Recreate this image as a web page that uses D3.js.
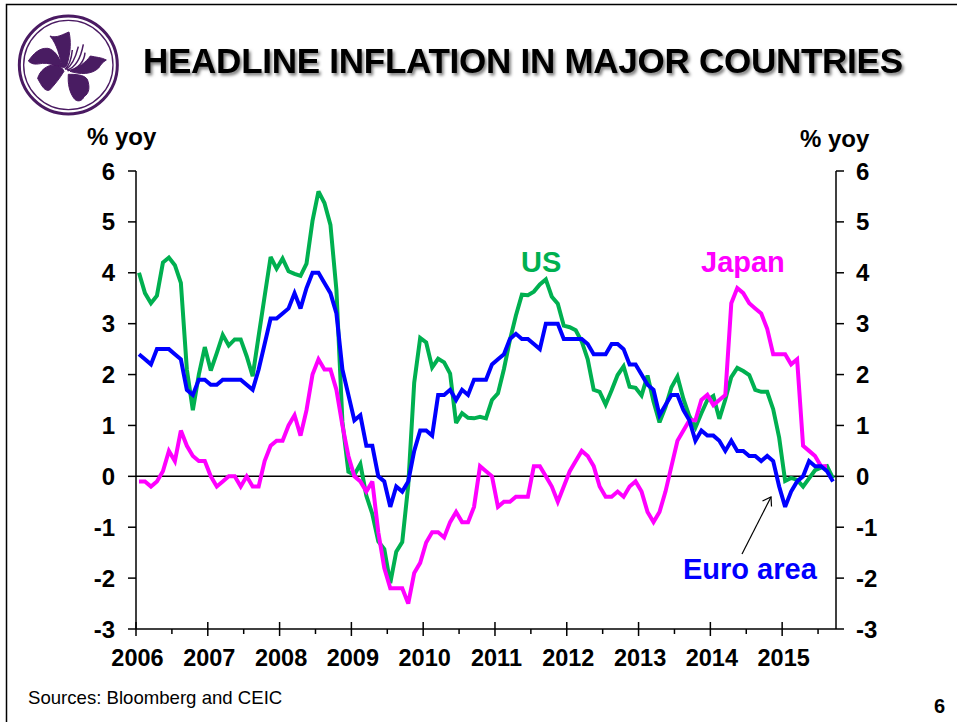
<!DOCTYPE html>
<html><head><meta charset="utf-8">
<script src="https://cdn.jsdelivr.net/npm/d3@7/dist/d3.min.js"></script>
<style>
html,body{margin:0;padding:0;background:#fff}
svg{display:block}
text{font-family:"Liberation Sans",Arial,sans-serif}
</style></head><body>
<svg id="c" width="957" height="722"></svg>
<script>
const years=[2006,2007,2008,2009,2010,2011,2012,2013,2014,2015];
const yTicks=[-3,-2,-1,0,1,2,3,4,5,6];
const usValues=[4.0,3.6,3.4,3.55,4.2,4.3,4.15,3.8,2.1,1.3,2.0,2.54,
2.08,2.42,2.78,2.57,2.69,2.69,2.36,1.97,2.76,3.54,4.31,4.08,
4.28,4.03,3.98,3.94,4.18,5.02,5.6,5.37,4.94,3.66,1.07,0.09,
0.03,0.24,-0.38,-0.74,-1.28,-1.43,-2.10,-1.48,-1.29,-0.18,1.84,2.72,
2.63,2.14,2.31,2.24,2.02,1.05,1.24,1.15,1.14,1.17,1.14,1.50,
1.63,2.11,2.68,3.16,3.57,3.56,3.63,3.77,3.87,3.53,3.39,2.96,
2.93,2.87,2.65,2.30,1.70,1.66,1.41,1.69,1.99,2.16,1.76,1.74,
1.59,1.98,1.47,1.06,1.36,1.75,1.96,1.52,1.18,0.96,1.24,1.50,
1.58,1.13,1.51,1.95,2.13,2.07,1.99,1.70,1.66,1.66,1.32,0.76,
-0.09,-0.03,-0.07,-0.20,-0.04,0.12,0.17,0.20,-0.04];
const euroValues=[2.4,2.3,2.2,2.5,2.5,2.5,2.4,2.3,1.7,1.6,1.9,1.9,
1.8,1.8,1.9,1.9,1.9,1.9,1.8,1.7,2.1,2.6,3.1,3.1,
3.2,3.3,3.6,3.3,3.7,4.0,4.0,3.8,3.6,3.2,2.1,1.6,
1.1,1.2,0.6,0.6,0.0,-0.1,-0.6,-0.2,-0.3,-0.1,0.5,0.9,
0.9,0.8,1.6,1.6,1.7,1.5,1.7,1.6,1.9,1.9,1.9,2.2,
2.3,2.4,2.7,2.8,2.7,2.7,2.6,2.5,3.0,3.0,3.0,2.7,
2.7,2.7,2.7,2.6,2.4,2.4,2.4,2.6,2.6,2.5,2.2,2.2,
2.0,1.8,1.7,1.2,1.4,1.6,1.6,1.3,1.1,0.7,0.9,0.8,
0.8,0.7,0.5,0.7,0.5,0.5,0.4,0.4,0.3,0.4,0.3,-0.2,
-0.6,-0.3,-0.1,0.0,0.3,0.2,0.2,0.1,-0.1];
const japanValues=[-0.1,-0.1,-0.2,-0.1,0.1,0.5,0.3,0.9,0.6,0.4,0.3,0.3,
0.0,-0.2,-0.1,0.0,0.0,-0.2,0.0,-0.2,-0.2,0.3,0.6,0.7,
0.7,1.0,1.2,0.8,1.3,2.0,2.3,2.1,2.1,1.7,1.0,0.4,
0.0,-0.1,-0.3,-0.1,-1.1,-1.8,-2.2,-2.2,-2.2,-2.5,-1.9,-1.7,
-1.3,-1.1,-1.1,-1.2,-0.9,-0.7,-0.9,-0.9,-0.6,0.2,0.1,0.0,
-0.6,-0.5,-0.5,-0.4,-0.4,-0.4,0.2,0.2,0.0,-0.2,-0.5,-0.2,
0.1,0.3,0.5,0.4,0.2,-0.2,-0.4,-0.4,-0.3,-0.4,-0.2,-0.1,
-0.3,-0.7,-0.9,-0.7,-0.3,0.2,0.7,0.9,1.1,1.1,1.5,1.6,
1.4,1.5,1.6,3.4,3.7,3.6,3.4,3.3,3.2,2.9,2.4,2.4,
2.4,2.2,2.3,0.6,0.5,0.4,0.2,0.2];

const L=136,R=836,T=171,B=629;
const svg=d3.select('#c');
const x=d3.scaleLinear().domain([0,usValues.length]).range([L,R]);
const y=d3.scaleLinear().domain([-3,6]).range([B,T]);

const defs=svg.append('defs');
const f=defs.append('filter').attr('id','sh').attr('x','-3%').attr('y','-30%').attr('width','106%').attr('height','170%');
f.append('feDropShadow').attr('dx',2).attr('dy',2.5).attr('stdDeviation',1.6).attr('flood-color','#000').attr('flood-opacity',0.5);
const fb=defs.append('filter').attr('id','soft');
fb.append('feGaussianBlur').attr('stdDeviation',1.2);

// frame
svg.append('path').attr('d','M6.5,722V4.5H957').attr('fill','none').attr('stroke','#000').attr('stroke-width',1.5);

// logo
const lg=svg.append('g').attr('transform','translate(15,10) scale(0.3333)');
const purple='#4a1a62';
lg.append('circle').attr('cx',160).attr('cy',165).attr('r',147).attr('fill','none').attr('stroke',purple).attr('stroke-width',9);
lg.append('circle').attr('cx',160).attr('cy',165).attr('r',134).attr('fill','none').attr('stroke',purple).attr('stroke-width',4);
const flower=lg.append('g').attr('filter','url(#soft)');
const petals=[
'M105,78C125,86 145,72 162,66C168,90 168,125 156,165C150,176 144,175 141,165C133,140 128,105 105,78Z',
'M40,153C55,132 72,113 98,115C118,118 132,140 144,172C118,166 100,158 82,160C65,163 52,165 40,153Z',
'M68,205C74,183 95,163 122,165C136,168 144,176 147,184C133,207 118,225 104,240C90,246 80,228 68,205Z',
'M160,193C178,193 207,193 217,208C225,230 224,250 207,260C202,274 185,278 176,264C163,245 158,222 160,193Z',
'M165,184C190,172 212,158 226,138C242,142 260,142 274,150C263,156 256,166 251,174C230,194 195,194 165,184Z'];
flower.selectAll('.p').data(petals).join('path').attr('d',d=>d).attr('fill',purple).attr('stroke',purple).attr('stroke-width',3);
['M150,178C165,165 170,140 172,120','M153,178C175,165 185,130 190,110','M156,180C185,172 198,140 205,103','M158,182C190,178 208,155 210,128']
 .forEach(d=>flower.append('path').attr('d',d).attr('fill','none').attr('stroke',purple).attr('stroke-width',4.5));

// title
svg.append('text').attr('x',143).attr('y',73).attr('font-size',35).attr('font-weight','bold')
   .attr('textLength',760).attr('lengthAdjust','spacing')
   .attr('fill','#000').attr('filter','url(#sh)').text('HEADLINE INFLATION IN MAJOR COUNTRIES');

// axes
const ax=svg.append('g').attr('stroke','#000').attr('fill','none');
ax.append('line').attr('x1',L).attr('x2',L).attr('y1',T).attr('y2',B).attr('stroke-width',1.5);
ax.append('line').attr('x1',R).attr('x2',R).attr('y1',T).attr('y2',B).attr('stroke-width',1.5);
ax.append('line').attr('x1',L-8).attr('x2',R+8).attr('y1',B).attr('y2',B).attr('stroke-width',1.5);
ax.append('line').attr('x1',L).attr('x2',R).attr('y1',y(0)).attr('y2',y(0)).attr('stroke-width',1.5);
yTicks.filter(v=>v>-3).forEach(v=>{
  ax.append('line').attr('x1',L-8).attr('x2',L).attr('y1',y(v)).attr('y2',y(v)).attr('stroke-width',1.5);
  ax.append('line').attr('x1',R).attr('x2',R+8).attr('y1',y(v)).attr('y2',y(v)).attr('stroke-width',1.5);
});
years.forEach((yr,i)=>{
  const m=x(i*12), h=x(i*12+6);
  ax.append('line').attr('x1',m).attr('x2',m).attr('y1',B-7).attr('y2',B+7).attr('stroke-width',1.5);
  if(i*12+6<usValues.length) ax.append('line').attr('x1',h).attr('x2',h).attr('y1',B).attr('y2',B+5).attr('stroke-width',1.5);
});
const tk=svg.append('g').attr('font-size',24).attr('font-weight','bold').attr('fill','#000');
yTicks.forEach(v=>{
  tk.append('text').attr('x',115).attr('y',y(v)+8.5).attr('text-anchor','end').text(v);
  tk.append('text').attr('x',856).attr('y',y(v)+8.5).text(v);
});
years.forEach((yr,i)=>{
  tk.append('text').attr('x',x(i*12)+1.5).attr('y',665.5).attr('text-anchor','middle').attr('font-size',23.5).text(yr);
});
tk.append('text').attr('x',87).attr('y',144.5).text('% yoy');
tk.append('text').attr('x',800).attr('y',146.5).text('% yoy');

// series
const line=d3.line().x((d,i)=>x(i+0.5)).y(d=>y(d)).curve(d3.curveLinear);
[[usValues,'#00b050'],[japanValues,'#ff00ff'],[euroValues,'#0000ff']].forEach(([v,c])=>{
  svg.append('path').attr('d',line(v)).attr('fill','none').attr('stroke',c).attr('stroke-width',4).attr('stroke-linejoin','miter').attr('stroke-miterlimit',3);
});

// labels
const lab=svg.append('g').attr('font-size',29).attr('font-weight','bold');
lab.append('text').attr('x',521).attr('y',271.5).attr('fill','#00b050').text('US');
lab.append('text').attr('x',701).attr('y',271.5).attr('fill','#ff00ff').text('Japan');
lab.append('text').attr('x',683).attr('y',578.5).attr('fill','#0000ff').text('Euro area');

// arrow
const ar=svg.append('g').attr('fill','none').attr('stroke','#000').attr('stroke-width',1.2);
ar.append('path').attr('d','M742,554L771,497');
ar.append('path').attr('d','M762.5,501L771,497L771.5,506.5');

// footer
svg.append('text').attr('x',28).attr('y',704).attr('font-size',18.6).attr('fill','#000').text('Sources: Bloomberg and CEIC');
svg.append('text').attr('x',934).attr('y',713).attr('font-size',20).attr('font-weight','bold').attr('fill','#000').text('6');
</script></body></html>
